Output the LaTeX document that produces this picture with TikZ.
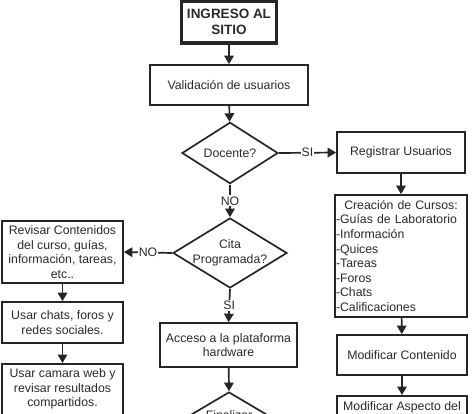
\documentclass[tikz,border=0pt]{standalone}
\usepackage{fontspec}
\setmainfont{Liberation Sans}
\usetikzlibrary{shapes.geometric,arrows.meta}
\definecolor{ln}{HTML}{262626}
\definecolor{tx}{HTML}{2A2A2A}
\tikzset{
  box/.style={draw=ln, line width=1.7pt, rectangle, align=center, text=tx,
    font=\fontsize{12.3}{14.6}\selectfont, inner sep=2pt},
  dec/.style={draw=ln, line width=1.7pt, diamond, inner sep=0pt, text=tx,
    font=\fontsize{12.3}{14.6}\selectfont},
  arr/.style={draw=ln, line width=1.7pt, -{Triangle[length=8.5pt,width=9.5pt]}},
  lbl/.style={fill=white, inner sep=1pt, text=tx, font=\fontsize{12.3}{14.6}\selectfont}
}
\begin{document}
\begin{tikzpicture}[x=1pt,y=-1pt]
\useasboundingbox (0,0) rectangle (474,413);
\clip (0,0) rectangle (474,413);
\fill[white] (0,0) rectangle (474,413);

\node[box, line width=3.5pt, minimum width=95pt, minimum height=42pt,
  font=\bfseries\fontsize{13.5}{16.5}\selectfont] (ingreso) at (229,22) {INGRESO AL\\SITIO};
\node[box, minimum width=158pt, minimum height=40pt] (valid) at (229,85) {Validación de usuarios};
\node[dec, minimum width=96pt, minimum height=58pt] (docente) at (230,153) {Docente?};
\node[box, minimum width=128pt, minimum height=41pt] (registrar) at (401,152.5) {Registrar Usuarios};
\node[box, minimum width=132pt, minimum height=122pt, text width=130pt, align=left, inner sep=1pt] (creacion) at (401,256)
  {\makebox[\linewidth][c]{Creación de Cursos:}\\-Guías de Laboratorio\\-Información\\-Quices\\-Tareas\\-Foros\\-Chats\\-Calificaciones};
\node[box, minimum width=130pt, minimum height=40pt] (modcont) at (402,355) {Modificar Contenido};
\node[box, minimum width=130pt, anchor=north, inner ysep=6pt, text depth=12pt] (modasp) at (402,395) {Modificar Aspecto del};

\node[dec, minimum width=114pt, minimum height=70pt] (cita) at (230,253) {};
\node[text=tx, align=center, font=\fontsize{12.3}{14.6}\selectfont] (citatxt) at (230,253) {Cita\\Programada?};
\node[box, minimum width=121pt, minimum height=62pt] (revisar) at (62.5,252)
  {Revisar Contenidos\\del curso, guías,\\información, tareas,\\etc..};
\node[box, minimum width=121pt, minimum height=41pt] (chats) at (62.5,322.5) {Usar chats, foros y\\redes sociales.};
\node[box, minimum width=121pt, anchor=north, inner ysep=5pt, text depth=10pt] (camara) at (62.5,363)
  {Usar camara web y\\revisar resultados\\compartidos.};
\node[box, minimum width=137pt, minimum height=44pt] (acceso) at (228.5,345) {Acceso a la plataforma\\hardware};
\node[dec, minimum width=118pt, minimum height=70pt] (final) at (229,427) {};
\node[text=tx, font=\fontsize{12.3}{14.6}\selectfont] (finaltxt) at (229,415.5) {Finalizar};

\draw[arr] (ingreso) -- (valid);
\draw[arr] (valid) -- (docente);
\draw[arr] (docente.east) -- node[lbl] {SI} (registrar.west);
\draw[arr] (registrar) -- (creacion);
\draw[arr] (creacion) -- (modcont);
\draw[arr] (modcont) -- (modasp);
\draw[arr] (docente.south) -- node[lbl] {NO} (cita.north);
\draw[arr] (cita.west) -- node[lbl] {NO} (revisar.east);
\draw[arr] (revisar) -- (chats);
\draw[arr] (chats) -- (camara);
\draw[arr] (cita.south) -- node[lbl] {SI} (acceso.north);
\draw[arr] (acceso) -- (final.north);
\end{tikzpicture}
\end{document}
